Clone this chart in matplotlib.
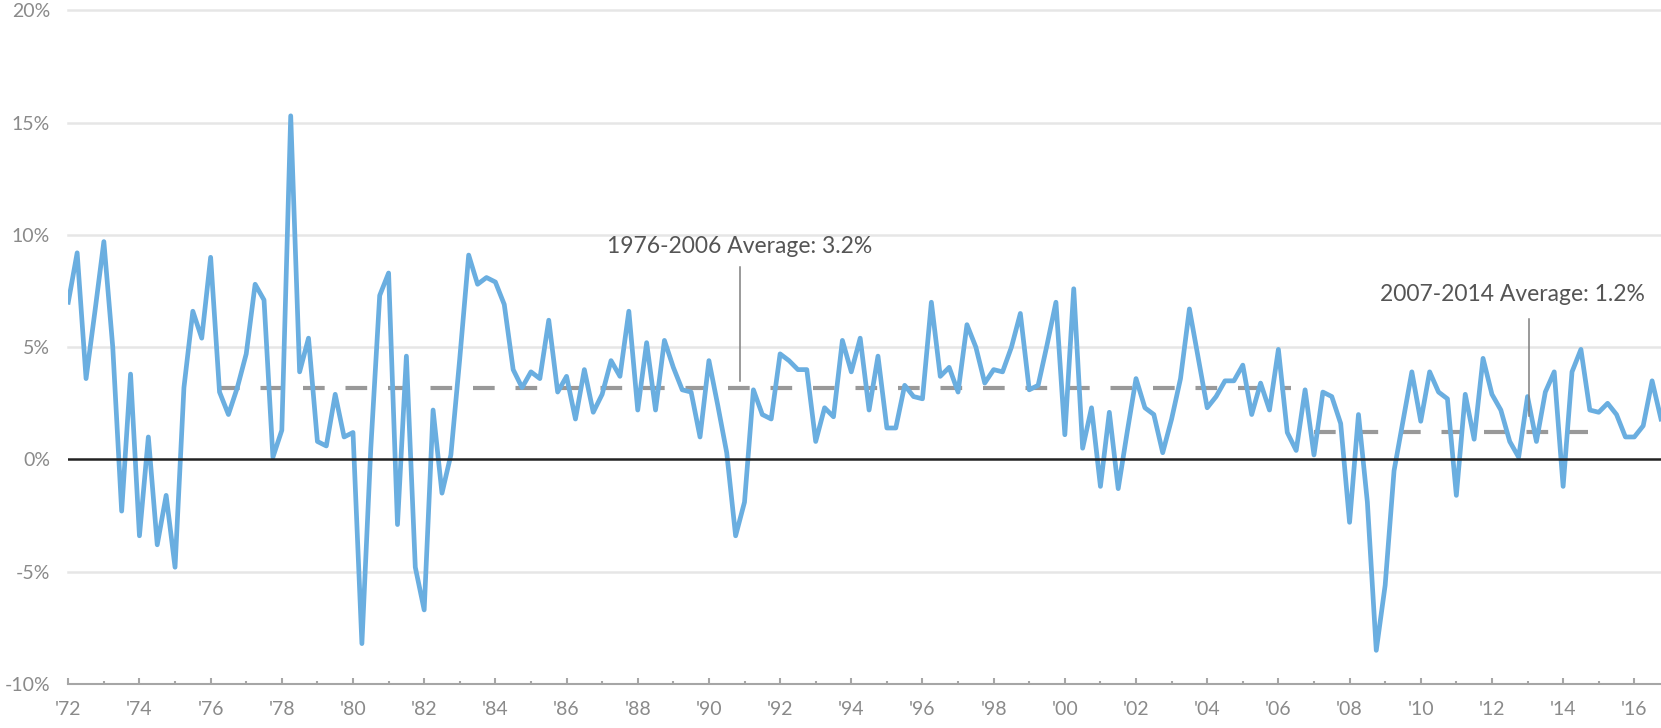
import matplotlib
matplotlib.use("Agg")
import matplotlib.pyplot as plt
import numpy as np

plt.rcParams['font.family'] = ['Lato', 'DejaVu Sans']
plt.rcParams['axes.unicode_minus'] = False

# Crecimiento trimestral (%), 1972 T1 - 2016 T4 (lectura del gráfico)
valores = [
    7.0, 9.2, 3.6, 6.6, 9.7, 5.0, -2.3, 3.8, -3.4, 1.0,
    -3.8, -1.6, -4.8, 3.2, 6.6, 5.4, 9.0, 3.0, 2.0, 3.2,
    4.7, 7.8, 7.1, 0.1, 1.3, 15.3, 3.9, 5.4, 0.8, 0.6,
    2.9, 1.0, 1.2, -8.2, 0.5, 7.3, 8.3, -2.9, 4.6, -4.8,
    -6.7, 2.2, -1.5, 0.2, 4.5, 9.1, 7.8, 8.1, 7.9, 6.9,
    4.0, 3.2, 3.9, 3.6, 6.2, 3.0, 3.7, 1.8, 4.0, 2.1,
    2.9, 4.4, 3.7, 6.6, 2.2, 5.2, 2.2, 5.3, 4.1, 3.1,
    3.0, 1.0, 4.4, 2.4, 0.3, -3.4, -1.9, 3.1, 2.0, 1.8,
    4.7, 4.4, 4.0, 4.0, 0.8, 2.3, 1.9, 5.3, 3.9, 5.4,
    2.2, 4.6, 1.4, 1.4, 3.3, 2.8, 2.7, 7.0, 3.7, 4.1,
    3.0, 6.0, 5.0, 3.4, 4.0, 3.9, 5.0, 6.5, 3.1, 3.3,
    5.1, 7.0, 1.1, 7.6, 0.5, 2.3, -1.2, 2.1, -1.3, 1.2,
    3.6, 2.3, 2.0, 0.3, 1.8, 3.6, 6.7, 4.5, 2.3, 2.8,
    3.5, 3.5, 4.2, 2.0, 3.4, 2.2, 4.9, 1.2, 0.4, 3.1,
    0.2, 3.0, 2.8, 1.6, -2.8, 2.0, -1.9, -8.5, -5.6, -0.5,
    1.7, 3.9, 1.7, 3.9, 3.0, 2.7, -1.6, 2.9, 0.9, 4.5,
    2.9, 2.2, 0.8, 0.1, 2.8, 0.8, 3.0, 3.9, -1.2, 3.9,
    4.9, 2.2, 2.1, 2.5, 2.0, 1.0, 1.0, 1.5, 3.5, 1.8,
]
anio_inicio = 1972

# Promedios por periodo
promedio_1 = 3.2
periodo_1 = (1976.2, 2006.35)
texto_1 = "1976-2006 Average: 3.2%"
promedio_2 = 1.2
periodo_2 = (2007.0, 2014.7)
texto_2 = "2007-2014 Average: 1.2%"

yticks = [-10, -5, 0, 5, 10, 15, 20]
ytick_labels = ["-10%", "-5%", "0%", "5%", "10%", "15%", "20%"]
xticks_mayores = list(range(1972, 2017, 2))
xtick_labels = ["'" + str(a)[2:] for a in xticks_mayores]
xticks_menores = list(range(1973, 2017, 2))

fechas = anio_inicio + 0.25 * np.arange(len(valores))

fig = plt.figure(figsize=(16.61, 7.28), dpi=100)
ax = fig.add_axes([0.0411, 0.0604, 0.9589, 0.9255])

gris_texto = "#8a8a8a"

# Grilla horizontal
for y in yticks[1:]:
    if y != 0:
        ax.axhline(y, color="#e6e6e6", linewidth=1.8, zorder=0, clip_on=False)

# Serie principal
ax.plot(fechas, valores, color="#6aaee0", linewidth=3.4, zorder=3)

# Líneas de promedio
ax.plot(periodo_1, [promedio_1, promedio_1], color="#999999", linewidth=3.0,
        dashes=(5.2, 5.0), zorder=2)
ax.plot(periodo_2, [promedio_2, promedio_2], color="#999999", linewidth=3.0,
        dashes=(5.2, 5.0), zorder=2)

# Línea del cero
ax.axhline(0, color="#222222", linewidth=1.8, zorder=4)

# Anotaciones
ax.plot([1990.87, 1990.87], [3.48, 8.55], color="#7f7f7f", linewidth=1.1, zorder=5)
ax.text(1987.13, 9.5, texto_1, fontsize=16.5, color="#555555", ha="left", va="center")
ax.plot([2013.05, 2013.05], [1.93, 6.27], color="#7f7f7f", linewidth=1.1, zorder=5)
ax.text(2008.86, 7.35, texto_2, fontsize=16.5, color="#555555", ha="left", va="center")

ax.set_xlim(1972, 2016.75)
ax.set_ylim(-10, 20)

ax.set_yticks(yticks)
ax.set_yticklabels(ytick_labels)
ax.set_xticks(xticks_mayores)
ax.set_xticklabels(xtick_labels)
ax.set_xticks(xticks_menores, minor=True)

for lado in ["top", "right", "left"]:
    ax.spines[lado].set_visible(False)
ax.spines["bottom"].set_color("#a6a6a6")
ax.spines["bottom"].set_linewidth(1.5)

ax.tick_params(axis="y", length=0, pad=13, labelsize=14, labelcolor=gris_texto)
ax.tick_params(axis="x", which="major", direction="in", length=4, width=1.5,
               color="#a6a6a6", pad=12, labelsize=14, labelcolor=gris_texto)
ax.tick_params(axis="x", which="minor", direction="in", length=2.5, width=1.5,
               color="#a6a6a6")

fig.savefig("out.png", dpi=100)
